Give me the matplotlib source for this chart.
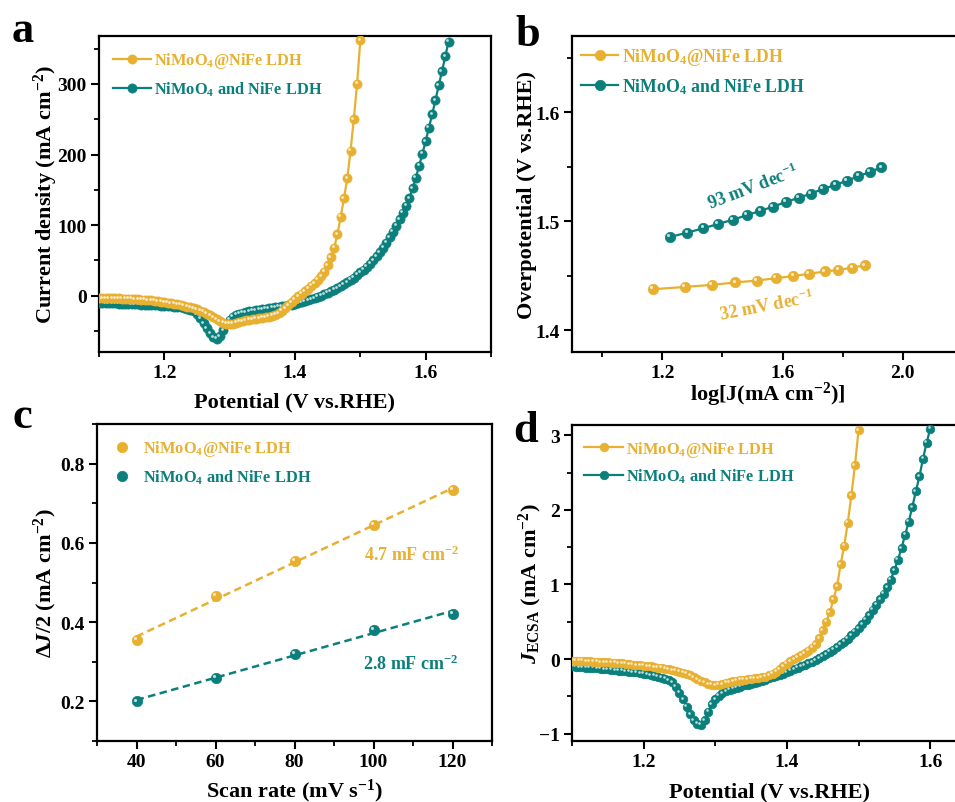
import numpy as np
import matplotlib
matplotlib.use('Agg')
import matplotlib.pyplot as plt
from matplotlib.ticker import MultipleLocator
from matplotlib.transforms import offset_copy

plt.rcParams['font.family'] = ['Liberation Serif', 'DejaVu Serif']
plt.rcParams['font.weight'] = 'bold'
plt.rcParams['axes.labelweight'] = 'bold'
plt.rcParams['mathtext.fontset'] = 'custom'
plt.rcParams['mathtext.rm'] = 'Liberation Serif:bold'
plt.rcParams['mathtext.it'] = 'Liberation Serif:italic:bold'
plt.rcParams['mathtext.bf'] = 'Liberation Serif:bold'
plt.rcParams['axes.linewidth'] = 1.6

YEL = '#E8B030'
TEAL = '#0B7F7B'
LAB1 = 'NiMoO$_4$@NiFe LDH'
LAB2 = 'NiMoO$_4$ and NiFe LDH'

# ---------------- panel a: LSV (mA cm-2), potential grid start/step ----------------
a_v0, a_step = 1.100, 0.005
a_yellow = [-3.5, -3.6, -3.7, -3.8, -3.9, -4.0, -4.1, -4.2, -4.4, -4.6,
            -4.8, -5.0, -5.3, -5.6, -6.0, -6.4, -6.9, -7.4, -8.0, -8.6,
            -9.3, -10.0, -10.8, -11.6, -12.5, -13.4, -14.4, -15.5, -16.7, -18.0,
            -19.5, -21.2, -23.2, -25.5, -28.0, -30.8, -33.6, -36.2, -38.3, -39.6,
            -40.0, -39.6, -38.6, -37.4, -36.2, -35.2, -34.3, -33.5, -32.8, -32.2,
            -31.6, -31.0, -30.2, -29.0, -27.3, -24.8, -21.6, -17.8, -13.6, -9.2,
            -5.0, -1.0, 2.8, 6.3, 10.0, 13.5, 17.5, 22.0, 27.5, 34.0,
            43.0, 54.0, 68.0, 87.0, 112.0, 138.0, 166.0, 205.0, 250.0, 300.0,
            362.0]
a_teal = [-10.5, -10.6, -10.8, -10.9, -11.0, -11.2, -11.3, -11.5, -11.7, -11.9,
          -12.1, -12.3, -12.5, -12.7, -12.9, -13.1, -13.3, -13.5, -13.8, -14.1,
          -14.4, -14.7, -15.1, -15.5, -16.0, -16.6, -17.4, -18.5, -20.0, -22.5,
          -26.5, -32.0, -39.0, -46.5, -53.5, -59.0, -61.5, -57.5, -49.0, -40.0,
          -34.0, -30.0, -27.5, -25.8, -24.5, -23.4, -22.5, -21.7, -21.0, -20.3,
          -19.6, -18.9, -18.2, -17.5, -16.8, -16.1, -15.4, -14.6, -13.8, -12.9,
          -11.9, -10.8, -9.6, -8.3, -6.9, -5.4, -3.8, -2.1, -0.3, 1.6,
          3.6, 5.8, 8.1, 10.6, 13.2, 16.0, 19.0, 22.2, 25.6, 29.1,
          32.8, 36.6, 40.7, 45.2, 50.0, 55.5, 61.5, 68.0, 75.0, 82.5,
          90.5, 99.0, 108.0, 117.5, 127.0, 138.0, 152.0, 167.0, 184.0, 201.0,
          219.0, 238.0, 257.0, 277.0, 298.0, 318.0, 339.0, 360.0]

# ---------------- panel b: Tafel ----------------
b_x_yellow = [1.168, 1.275, 1.365, 1.443, 1.515, 1.578, 1.636, 1.688, 1.740, 1.786, 1.832, 1.873]
b_y_yellow = [1.4376, 1.4397, 1.4416, 1.4438, 1.4456, 1.4477, 1.4498, 1.4517, 1.4539, 1.4553, 1.4575, 1.4594]
b_x_teal = [1.226, 1.284, 1.337, 1.386, 1.436, 1.481, 1.526, 1.569, 1.612, 1.655, 1.695,
            1.735, 1.776, 1.814, 1.852, 1.890, 1.929]
b_y_teal = [1.4856, 1.4896, 1.4936, 1.4975, 1.5015, 1.5055, 1.5095, 1.5135, 1.5177, 1.5217,
            1.5254, 1.5297, 1.5333, 1.5373, 1.5413, 1.5452, 1.5495]
b_txt_teal = '93 mV dec$^{-1}$'
b_txt_yellow = '32 mV dec$^{-1}$'

# ---------------- panel c: Cdl ----------------
c_scan = [40, 60, 80, 100, 120]
c_yellow = [0.355, 0.466, 0.554, 0.646, 0.733]
c_teal = [0.200, 0.260, 0.319, 0.380, 0.421]
c_txt_yellow = '4.7 mF cm$^{-2}$'
c_txt_teal = '2.8 mF cm$^{-2}$'

# ---------------- panel d: ECSA-normalised LSV ----------------
d_v0, d_step = 1.100, 0.005
d_yellow = [-0.020, -0.020, -0.025, -0.025, -0.030, -0.030, -0.035, -0.035, -0.040, -0.040,
            -0.045, -0.050, -0.050, -0.055, -0.060, -0.065, -0.070, -0.075, -0.080, -0.085,
            -0.090, -0.095, -0.100, -0.110, -0.115, -0.120, -0.130, -0.140, -0.150, -0.160,
            -0.170, -0.185, -0.200, -0.220, -0.245, -0.270, -0.295, -0.315, -0.335, -0.345,
            -0.350, -0.345, -0.335, -0.320, -0.310, -0.300, -0.290, -0.280, -0.275, -0.270,
            -0.265, -0.260, -0.255, -0.245, -0.235, -0.220, -0.200, -0.170, -0.135, -0.100,
            -0.065, -0.030, 0.000, 0.025, 0.050, 0.080, 0.110, 0.150, 0.200, 0.280,
            0.385, 0.500, 0.630, 0.800, 0.980, 1.270, 1.520, 1.830, 2.200, 2.600,
            3.070]
d_teal = [-0.100, -0.105, -0.110, -0.110, -0.115, -0.120, -0.120, -0.125, -0.130, -0.135,
          -0.140, -0.145, -0.150, -0.155, -0.160, -0.165, -0.170, -0.175, -0.180, -0.190,
          -0.195, -0.205, -0.215, -0.225, -0.235, -0.250, -0.265, -0.285, -0.315, -0.370,
          -0.450, -0.540, -0.640, -0.740, -0.820, -0.870, -0.880, -0.820, -0.710, -0.610,
          -0.540, -0.490, -0.460, -0.435, -0.415, -0.400, -0.385, -0.370, -0.355, -0.345,
          -0.330, -0.320, -0.305, -0.290, -0.275, -0.260, -0.245, -0.230, -0.215, -0.195,
          -0.175, -0.155, -0.140, -0.120, -0.100, -0.080, -0.060, -0.040, -0.015, 0.010,
          0.035, 0.065, 0.095, 0.125, 0.160, 0.195, 0.235, 0.275, 0.320, 0.365,
          0.415, 0.470, 0.530, 0.590, 0.660, 0.730, 0.800, 0.875, 0.960, 1.065,
          1.190, 1.330, 1.490, 1.665, 1.840, 2.040, 2.250, 2.450, 2.690, 2.900,
          3.090]


def grid(v0, step, vals):
    return np.round(v0 + step * np.arange(len(vals)), 4)


fig = plt.figure(figsize=(9.55, 8.03), dpi=100)
W, H = 955.0, 803.0


def make_ax(l, t, r, b):
    return fig.add_axes([l / W, 1 - b / H, (r - l) / W, (b - t) / H])


ax_a = make_ax(99, 37, 491, 353)
ax_b = make_ax(572, 37, 963, 353)
ax_c = make_ax(97, 425, 492, 742)
ax_d = make_ax(572, 426, 966, 742)


def style(ax):
    ax.tick_params(axis='both', which='major', direction='out', length=6, width=1.5,
                   labelsize=14, pad=3, top=False, right=False)
    ax.tick_params(axis='both', which='minor', direction='out', length=3.5, width=1.3,
                   top=False, right=False)
    for lab in ax.get_xticklabels() + ax.get_yticklabels():
        lab.set_fontweight('bold')


def labels(ax, xl, yl, x_base_px, y_right_px, ax_bottom_px, ax_h, ax_left_px, ax_w):
    ax.set_xlabel(xl, fontsize=16)
    ax.set_ylabel(yl, fontsize=16)
    ax.xaxis.label.set_va('baseline')
    ax.xaxis.set_label_coords(0.5, -(x_base_px - ax_bottom_px) / ax_h)
    ax.yaxis.set_label_coords((y_right_px - ax_left_px) / ax_w, 0.5)


def spheres(ax, x, y, color, ms, lw=1.6, ls='-', z=3, label=None):
    ln, = ax.plot(x, y, ls=ls, lw=lw, color=color, marker='o', ms=ms, mfc=color,
                  mec=color, mew=0.5, zorder=z, label=label)
    tr = offset_copy(ax.transData, fig=fig, x=-ms * 0.17, y=ms * 0.17, units='points')
    ax.plot(x, y, ls='none', marker='o', ms=ms * 0.3, mfc='white', mec='none',
            alpha=0.75, transform=tr, zorder=z + 0.1)
    return ln


def add_legend(ax, handles, anchor, fs, hl=2.2, htp=0.2, ls=0.45):
    leg = ax.legend(handles=handles, loc='upper left', bbox_to_anchor=anchor,
                    frameon=False, fontsize=fs, handlelength=hl, handletextpad=htp,
                    labelspacing=ls, borderaxespad=0, numpoints=1)
    for t, c in zip(leg.get_texts(), [YEL, TEAL]):
        t.set_color(c)
        t.set_fontweight('bold')


# ---- a ----
ax = ax_a
h1 = spheres(ax, grid(a_v0, a_step, a_yellow), a_yellow, YEL, 6.6, label=LAB1, z=4)
h2 = spheres(ax, grid(a_v0, a_step, a_teal), a_teal, TEAL, 6.6, label=LAB2, z=3)
ax.set_xlim(1.1, 1.7)
ax.set_ylim(-80, 368)
ax.set_xticks([1.2, 1.4, 1.6])
ax.xaxis.set_minor_locator(MultipleLocator(0.1))
ax.set_yticks([0, 100, 200, 300])
ax.yaxis.set_minor_locator(MultipleLocator(50))
labels(ax, 'Potential (V vs.RHE)', 'Current density (mA cm$^{-2}$)', 407, 60, 353, 316, 99, 392)
style(ax)
add_legend(ax, [h1, h2], (0.018, 0.975), 11.8, hl=2.35, ls=0.55)

# ---- b ----
ax = ax_b
h1 = spheres(ax, b_x_yellow, b_y_yellow, YEL, 7.5, label=LAB1)
h2 = spheres(ax, b_x_teal, b_y_teal, TEAL, 7.5, label=LAB2)
ax.set_xlim(0.9, 2.2)
ax.set_ylim(1.38, 1.67)
ax.set_xticks([1.2, 1.6, 2.0])
ax.xaxis.set_minor_locator(MultipleLocator(0.2))
ax.set_yticks([1.4, 1.5, 1.6])
ax.yaxis.set_minor_locator(MultipleLocator(0.05))
labels(ax, 'log[J(mA cm$^{-2}$)]', 'Overpotential (V vs.RHE)', 401, 537, 353, 316, 572, 391)
style(ax)
ax.text(1.501, 1.532, b_txt_teal, color=TEAL, fontsize=13, rotation=21,
        ha='center', va='center', fontweight='bold')
ax.text(1.548, 1.4227, b_txt_yellow, color=YEL, fontsize=13, rotation=11,
        ha='center', va='center', fontweight='bold')
add_legend(ax, [h1, h2], (0.005, 0.99), 12.8, hl=2.1, ls=0.5)

# ---- c ----
ax = ax_c
fx = np.array([40, 120])
for yv, col in ((c_yellow, YEL), (c_teal, TEAL)):
    k, b0 = np.polyfit(c_scan, yv, 1)
    ax.plot(fx, k * fx + b0, ls=(0, (3, 1.8)), lw=1.8, color=col, zorder=2)
h1 = spheres(ax, c_scan, c_yellow, YEL, 7.5, ls='none', label=LAB1)
h2 = spheres(ax, c_scan, c_teal, TEAL, 7.5, ls='none', label=LAB2)
ax.set_xlim(30, 130)
ax.set_ylim(0.1, 0.9)
ax.set_xticks([40, 60, 80, 100, 120])
ax.xaxis.set_minor_locator(MultipleLocator(10))
ax.set_yticks([0.2, 0.4, 0.6, 0.8])
ax.yaxis.set_minor_locator(MultipleLocator(0.1))
labels(ax, 'Scan rate (mV s$^{-1}$)', 'Δ$J$/2 (mA cm$^{-2}$)', 797, 59, 742, 317, 97, 395)
style(ax)
ax.text(121.9, 0.5715, c_txt_yellow, color=YEL, fontsize=13, ha='right', va='center',
        fontweight='bold')
ax.text(121.6, 0.295, c_txt_teal, color=TEAL, fontsize=13, ha='right', va='center',
        fontweight='bold')
add_legend(ax, [h1, h2], (0.02, 0.975), 11.8, hl=1.25, htp=0.65, ls=0.55)

# ---- d ----
ax = ax_d
h1 = spheres(ax, grid(d_v0, d_step, d_yellow), d_yellow, YEL, 6.2, label=LAB1, z=4)
h2 = spheres(ax, grid(d_v0, d_step, d_teal), d_teal, TEAL, 6.2, label=LAB2, z=3)
ax.set_xlim(1.1, 1.65)
ax.set_ylim(-1.1, 3.14)
ax.set_xticks([1.2, 1.4, 1.6])
ax.xaxis.set_minor_locator(MultipleLocator(0.1))
ax.set_yticks([-1, 0, 1, 2, 3])
ax.yaxis.set_minor_locator(MultipleLocator(0.5))
labels(ax, 'Potential (V vs.RHE)', '$J_{\\mathrm{ECSA}}$ (mA cm$^{-2}$)', 797, 544, 742, 316, 572, 394)
style(ax)
add_legend(ax, [h1, h2], (0.015, 0.977), 11.8, hl=2.35, ls=0.5)

# panel letters
for txt, x, y in (('a', 12, 42), ('b', 515, 46), ('c', 12, 428), ('d', 513, 442)):
    fig.text(x / W, 1 - y / H, txt, fontsize=32, fontweight='bold', ha='left', va='baseline')

fig.savefig('out.png', dpi=100)
